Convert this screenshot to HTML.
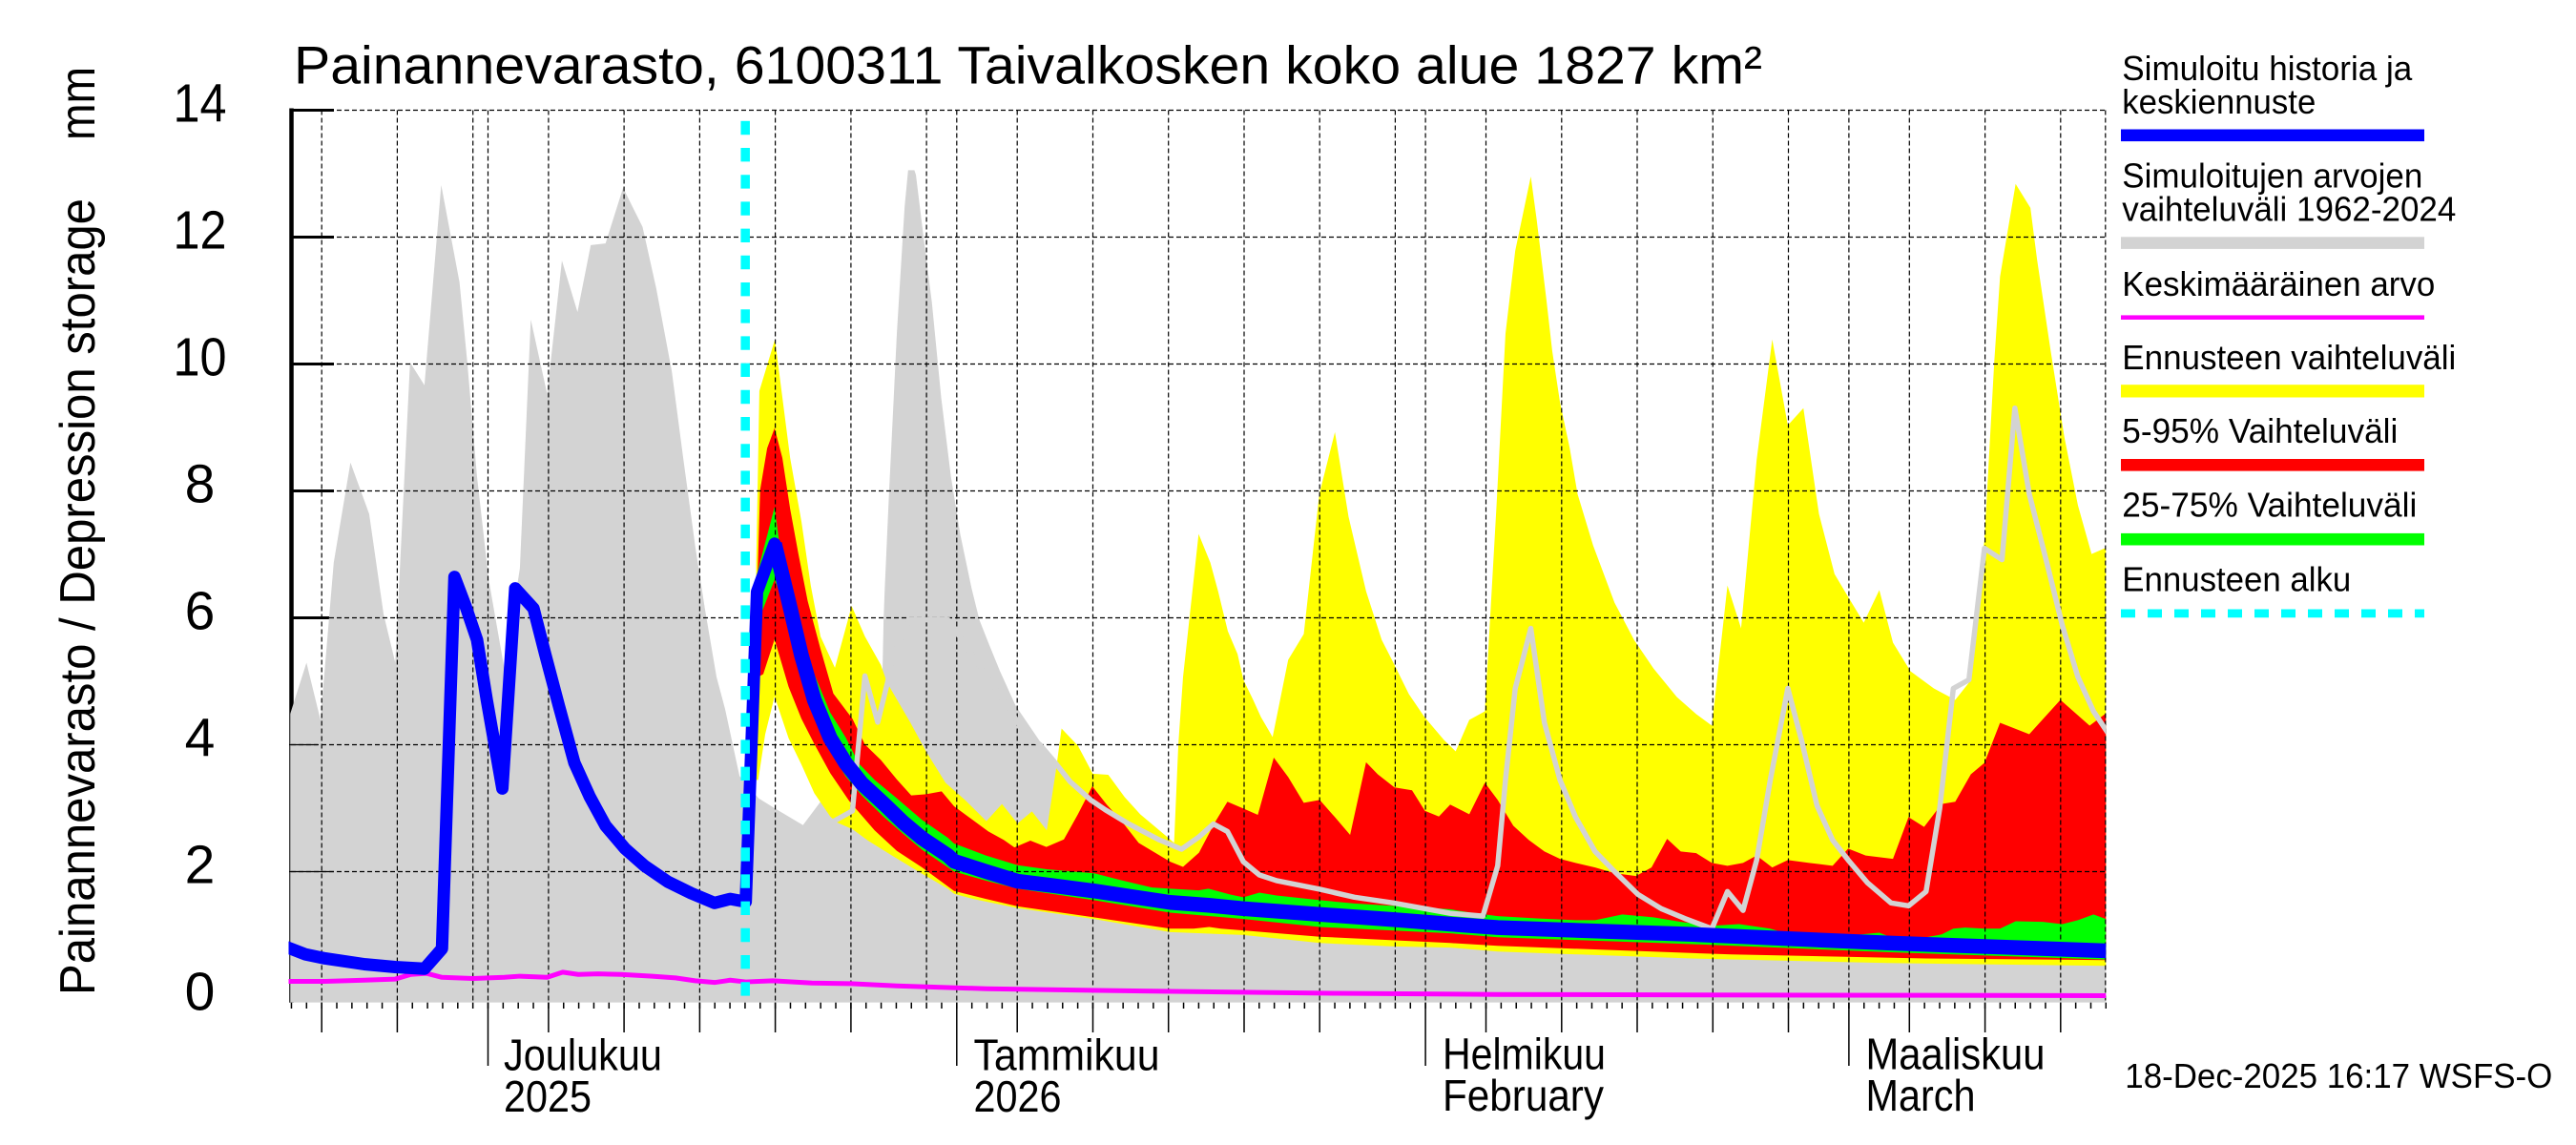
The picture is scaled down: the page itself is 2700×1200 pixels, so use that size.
<!DOCTYPE html>
<html><head><meta charset="utf-8"><style>
html,body{margin:0;padding:0;background:#fff;}
body{width:2700px;height:1200px;overflow:hidden;}
svg{display:block;font-family:"Liberation Sans",Arial,sans-serif;}
</style></head><body>
<svg width="2700" height="1200" viewBox="0 0 2700 1200" xmlns="http://www.w3.org/2000/svg">
<defs>
<clipPath id="pc"><rect x="304.2" y="100" width="1903.1" height="951"/></clipPath>
<clipPath id="lc"><rect x="302.5" y="100" width="1904.8" height="951"/></clipPath>
<pattern id="dt" patternUnits="userSpaceOnUse" x="510.75" y="0" width="15.849" height="10"><rect x="0" y="0" width="1.5" height="10" fill="#000"/></pattern>
</defs>
<rect x="0" y="0" width="2700" height="1200" fill="#fff"/>

<!-- left axis (drawn under fills) -->
<line x1="305.5" y1="113.5" x2="305.5" y2="1050.7" stroke="#000" stroke-width="4.5"/>
<path d="M305,115.5H350 M305,248.5H350 M305,381.5H350 M305,514.5H350 M305,647.5H350 M305,780.5H350 M305,913.5H350" stroke="#000" stroke-width="3" fill="none"/>

<g clip-path="url(#pc)">
<g transform="translate(300,110) scale(0.408163,0.599520)">
<path fill="#d3d3d3" d="M10,1569 L10,1065 52,975 88,1075 122,800 165,625 213,715 250,890 280,975 318,450 355,490 398,140 445,310 465,450 490,650 520,830 560,985 600,810 628,375 670,505 708,272 748,362 782,245 820,242 865,145 915,213 950,320 990,465 1020,620 1050,770 1075,880 1105,1000 1127,1056 1164,1173 1213,1212 1258,1231 1327,1259 1372,1218 1413,1248 1500,1150 1530,1030 1534,900 1537,845 1548,678 1560,512 1568,400 1588,178 1597,114 1613,114 1617,122 1637,233 1658,345 1682,512 1707,650 1731,751 1760,845 1780,900 1803,940 1833,990 1873,1050 1923,1100 1963,1140 2050,1230 2300,1390 2600,1420 3000,1440 3600,1450 4680,1460 4680,1569 Z"/>
<path fill="#ffff00" d="M1203,1180 L1207,800 1215,500 1255,410 1294,617 1323,728 1347,840 1372,929 1409,984 1452,876 1486,929 1527,979 1543,1010 1573,1045 1603,1080 1643,1130 1693,1185 1743,1215 1798,1252 1838,1222 1878,1256 1915,1235 1953,1268 1976,1166 1991,1090 2033,1120 2071,1169 2111,1171 2153,1210 2193,1240 2263,1280 2280,1290 2291,1117 2303,1000 2343,750 2373,800 2393,850 2418,920 2443,960 2458,1005 2483,1040 2503,1070 2533,1105 2573,970 2613,925 2653,680 2693,572 2728,720 2773,850 2813,935 2843,975 2883,1030 2923,1070 2973,1110 3003,1130 3038,1075 3078,1060 3108,700 3131,400 3156,255 3196,125 3211,200 3236,340 3251,430 3271,520 3296,600 3316,680 3356,770 3411,870 3461,935 3511,985 3571,1035 3621,1065 3661,1085 3701,840 3736,915 3776,620 3816,410 3856,560 3896,530 3936,715 3976,820 4011,860 4051,905 4091,848 4126,940 4171,990 4231,1020 4286,1040 4321,1010 4361,760 4386,450 4401,300 4441,138 4479,180 4496,270 4531,430 4566,580 4601,700 4636,785 4680,772 L4680,1505 4111,1500 3611,1492 3111,1480 2989,1473 2842,1471 2654,1465 2458,1451 2270,1446 2074,1423 1878,1404 1764,1388 1715,1379 1699,1370 1633,1344 1560,1314 1494,1286 1454,1266 1413,1254 1397,1244 1356,1203 1323,1153 1290,1107 1254,1034 1230,1100 1212,1180 Z"/>
<path fill="#ff0000" d="M1207,900 L1217,673 1235,600 1254,565 1274,617 1294,706 1315,784 1339,867 1372,951 1405,1029 1454,1073 1486,1118 1527,1145 1568,1179 1605,1207 1643,1205 1683,1200 1715,1226 1763,1250 1803,1270 1843,1285 1870,1298 1911,1286 1952,1297 1997,1284 2033,1240 2070,1191 2107,1223 2143,1250 2189,1290 2270,1323 2303,1332 2344,1307 2385,1254 2417,1218 2458,1230 2495,1241 2536,1141 2573,1175 2613,1220 2654,1215 2693,1245 2732,1276 2773,1149 2803,1170 2846,1193 2891,1198 2924,1234 2960,1244 2989,1223 3038,1240 3078,1185 3111,1215 3151,1260 3191,1285 3231,1305 3271,1318 3311,1325 3361,1333 3411,1343 3466,1348 3506,1333 3546,1283 3581,1305 3621,1308 3661,1325 3701,1330 3741,1325 3776,1312 3816,1333 3856,1320 3911,1325 3971,1330 4011,1300 4056,1312 4126,1318 4166,1245 4206,1262 4251,1222 4286,1218 4326,1170 4361,1150 4401,1080 4476,1100 4556,1040 4631,1085 4680,1060 L4680,1495 4211,1492 3711,1485 3111,1470 2989,1465 2654,1454 2458,1443 2400,1440 2370,1437 2330,1440 2270,1440 2074,1420 1878,1401 1797,1388 1715,1374 1633,1333 1568,1304 1511,1268 1446,1217 1397,1168 1356,1117 1323,1073 1290,1017 1254,934 1225,995 1212,1000 Z"/>
<path fill="#00ff00" d="M1209,820 L1254,703 1270,784 1290,851 1323,928 1356,995 1397,1062 1437,1106 1470,1151 1511,1180 1568,1212 1633,1250 1699,1281 1715,1291 1797,1312 1878,1329 1953,1336 2074,1343 2143,1355 2223,1368 2270,1370 2343,1373 2368,1370 2423,1380 2458,1385 2499,1377 2543,1382 2654,1390 2743,1396 2843,1400 2989,1406 3043,1412 3111,1418 3211,1422 3311,1425 3361,1425 3431,1415 3511,1420 3581,1428 3661,1435 3731,1432 3811,1440 3861,1450 4011,1452 4091,1447 4121,1455 4211,1455 4251,1450 4281,1440 4311,1438 4361,1440 4401,1440 4441,1427 4511,1428 4561,1432 4601,1425 4641,1415 4680,1425 L4680,1494 4111,1481 3611,1467 3111,1455 2989,1448 2654,1437 2458,1423 2270,1412 2074,1390 1878,1370 1797,1356 1715,1340 1633,1302 1584,1274 1535,1245 1478,1207 1437,1174 1397,1130 1356,1061 1323,983 1290,888 1254,830 1225,880 1212,900 Z"/>
</g>
</g>

<!-- grid -->
<g stroke="#000" stroke-width="1.2" stroke-dasharray="5,3" fill="none">
<path d="M305,115.5H2207.3 M305,248.5H2207.3 M305,381.5H2207.3 M305,514.5H2207.3 M305,647.5H2207.3 M305,780.5H2207.3 M305,913.5H2207.3"/>
<path d="M337.2,115.5V1050.7 M416.4,115.5V1050.7 M495.7,115.5V1050.7 M511.5,115.5V1050.7 M574.9,115.5V1050.7 M654.1,115.5V1050.7 M733.4,115.5V1050.7 M812.6,115.5V1050.7 M891.9,115.5V1050.7 M971.1,115.5V1050.7 M1002.8,115.5V1050.7 M1066.2,115.5V1050.7 M1145.5,115.5V1050.7 M1224.7,115.5V1050.7 M1304,115.5V1050.7 M1383.2,115.5V1050.7 M1462.4,115.5V1050.7 M1494.1,115.5V1050.7 M1557.5,115.5V1050.7 M1636.8,115.5V1050.7 M1716,115.5V1050.7 M1795.3,115.5V1050.7 M1874.5,115.5V1050.7 M1937.9,115.5V1050.7 M2001.3,115.5V1050.7 M2080.6,115.5V1050.7 M2159.8,115.5V1050.7 M2206.8,115.5V1050.7"/>
</g>
<path d="M303,780.5H333 M303,913.5H350" stroke="#000" stroke-width="1.3" fill="none"/>

<g clip-path="url(#lc)">
<g transform="translate(300,110) scale(0.408163,0.599520)" fill="none" stroke-linejoin="round">
<polyline vector-effect="non-scaling-stroke" stroke="#ff00ff" stroke-width="5" points="5,1532 100,1532 200,1530 280,1528 320,1520 360,1518 400,1525 480,1527 560,1525 600,1523 670,1525 710,1516 750,1520 800,1519 860,1520 940,1523 1000,1526 1050,1531 1100,1534 1140,1530 1180,1533 1250,1531 1350,1535 1450,1536 1568,1540 1800,1545 2200,1549 2700,1553 3111,1555 3800,1556 4680,1557"/>
<polyline vector-effect="non-scaling-stroke" stroke="#d3d3d3" stroke-width="5.5" points="1380,1260 1409,1251 1454,1234 1486,998 1519,1079 1544,1010 1560,960 1600,900 1700,900 1800,1000 1900,1100 1935,1118 1976,1151 2013,1183 2066,1215 2103,1232 2164,1257 2243,1285 2299,1301 2343,1280 2381,1257 2417,1270 2458,1323 2499,1346 2543,1356 2654,1371 2743,1385 2843,1395 2989,1413 3073,1418 3111,1330 3131,1180 3156,1020 3196,915 3231,1080 3271,1180 3311,1245 3361,1305 3411,1340 3471,1380 3531,1405 3591,1422 3661,1440 3701,1375 3741,1408 3776,1320 3811,1180 3856,1020 3891,1110 3931,1225 3971,1285 4011,1320 4061,1360 4121,1395 4166,1400 4211,1375 4246,1230 4281,1020 4321,1005 4361,775 4406,795 4439,530 4476,680 4521,800 4561,910 4601,1000 4641,1060 4685,1105"/>
<polyline vector-effect="non-scaling-stroke" stroke="#0000ff" stroke-width="13" points="0,1472 12,1475 50,1485 100,1492 200,1502 280,1507 355,1510 400,1475 432,825 460,875 490,935 515,1040 555,1195 588,845 635,880 665,960 700,1050 740,1150 780,1210 820,1260 870,1300 920,1330 980,1358 1040,1378 1100,1395 1140,1388 1180,1393 1209,851 1254,767 1290,867"/>
<polyline vector-effect="non-scaling-stroke" stroke="#0000ff" stroke-width="15.5" points="1254,767 1290,867 1323,962 1356,1040 1397,1107 1437,1151 1478,1186 1535,1222 1584,1254 1633,1282 1699,1312 1715,1322 1797,1340 1878,1357 1960,1364 2074,1374 2172,1384 2270,1394 2368,1399 2458,1405 2654,1415 2842,1424 2989,1432 3111,1438 3611,1450 4111,1465 4690,1479"/>
</g>
</g>

<!-- forecast start -->
<line x1="781.2" y1="126.8" x2="781.2" y2="1050.7" stroke="#00ffff" stroke-width="9.5" stroke-dasharray="14.4,13.8"/>

<!-- x ticks -->
<rect x="304" y="1050.7" width="1904" height="6.3" fill="url(#dt)"/>
<path stroke="#000" stroke-width="1.5" fill="none" d="M337.2,1050.7V1082 M416.4,1050.7V1082 M574.9,1050.7V1082 M654.1,1050.7V1082 M733.4,1050.7V1082 M812.6,1050.7V1082 M891.9,1050.7V1082 M1066.2,1050.7V1082 M1145.5,1050.7V1082 M1224.7,1050.7V1082 M1304,1050.7V1082 M1383.2,1050.7V1082 M1557.5,1050.7V1082 M1636.8,1050.7V1082 M1716,1050.7V1082 M1795.3,1050.7V1082 M1874.5,1050.7V1082 M2001.3,1050.7V1082 M2080.6,1050.7V1082 M2159.8,1050.7V1082 M511.5,1050.7V1117 M1002.8,1050.7V1117 M1494.1,1050.7V1117 M1937.9,1050.7V1117"/>

<!-- y labels -->
<g font-size="57" fill="#000" text-anchor="middle">
<text x="209.5" y="127.5" textLength="56" lengthAdjust="spacingAndGlyphs">14</text>
<text x="209.5" y="260.5" textLength="56" lengthAdjust="spacingAndGlyphs">12</text>
<text x="209.5" y="393.5" textLength="56" lengthAdjust="spacingAndGlyphs">10</text>
<text x="209.5" y="526.5">8</text>
<text x="209.5" y="659.5">6</text>
<text x="209.5" y="792.5">4</text>
<text x="209.5" y="925.5">2</text>
<text x="209.5" y="1058.5">0</text>
</g>

<!-- y title -->
<text transform="translate(99,1043) rotate(-90)" font-size="52" textLength="835" lengthAdjust="spacingAndGlyphs">Painannevarasto / Depression storage</text>
<text transform="translate(99,147) rotate(-90)" font-size="52" textLength="77" lengthAdjust="spacingAndGlyphs">mm</text>

<!-- title -->
<text x="308" y="87.3" font-size="56" textLength="1539" lengthAdjust="spacingAndGlyphs">Painannevarasto, 6100311 Taivalkosken koko alue 1827 km²</text>

<!-- month labels -->
<g font-size="46" fill="#000">
<text x="528" y="1121.7" textLength="166" lengthAdjust="spacingAndGlyphs">Joulukuu</text>
<text x="528" y="1165" textLength="92" lengthAdjust="spacingAndGlyphs">2025</text>
<text x="1020.5" y="1121.7" textLength="195" lengthAdjust="spacingAndGlyphs">Tammikuu</text>
<text x="1020.5" y="1165" textLength="92" lengthAdjust="spacingAndGlyphs">2026</text>
<text x="1512" y="1120.7" textLength="171" lengthAdjust="spacingAndGlyphs">Helmikuu</text>
<text x="1512" y="1164" textLength="169" lengthAdjust="spacingAndGlyphs">February</text>
<text x="1955.5" y="1120.7" textLength="188" lengthAdjust="spacingAndGlyphs">Maaliskuu</text>
<text x="1955.5" y="1164" textLength="115" lengthAdjust="spacingAndGlyphs">March</text>
</g>

<text x="2227.3" y="1140" font-size="36" textLength="448" lengthAdjust="spacingAndGlyphs">18-Dec-2025 16:17 WSFS-O</text>

<!-- legend -->
<g font-size="36" fill="#000">
<text x="2224.3" y="84.2" textLength="304" lengthAdjust="spacingAndGlyphs">Simuloitu historia ja</text>
<text x="2224.3" y="119.1" textLength="203" lengthAdjust="spacingAndGlyphs">keskiennuste</text>
<text x="2224.3" y="196.5" textLength="315" lengthAdjust="spacingAndGlyphs">Simuloitujen arvojen</text>
<text x="2224.3" y="231.5" textLength="350" lengthAdjust="spacingAndGlyphs">vaihteluväli 1962-2024</text>
<text x="2224.3" y="310.2" textLength="328" lengthAdjust="spacingAndGlyphs">Keskimääräinen arvo</text>
<text x="2224.3" y="387.2" textLength="350" lengthAdjust="spacingAndGlyphs">Ennusteen vaihteluväli</text>
<text x="2224.3" y="464.2" textLength="289" lengthAdjust="spacingAndGlyphs">5-95% Vaihteluväli</text>
<text x="2224.3" y="541.7" textLength="309" lengthAdjust="spacingAndGlyphs">25-75% Vaihteluväli</text>
<text x="2224.3" y="619.5" textLength="240" lengthAdjust="spacingAndGlyphs">Ennusteen alku</text>
</g>
<rect x="2223" y="135.5" width="318" height="12.6" fill="#0000ff"/>
<rect x="2223" y="248.3" width="318" height="12.6" fill="#d3d3d3"/>
<rect x="2223" y="330.4" width="318" height="4.6" fill="#ff00ff"/>
<rect x="2223" y="403.2" width="318" height="13.3" fill="#ffff00"/>
<rect x="2223" y="481" width="318" height="12.6" fill="#ff0000"/>
<rect x="2223" y="558.9" width="318" height="12.6" fill="#00ff00"/>
<line x1="2223" y1="642.9" x2="2541" y2="642.9" stroke="#00ffff" stroke-width="8.8" stroke-dasharray="15,13"/>
</svg>
</body></html>
